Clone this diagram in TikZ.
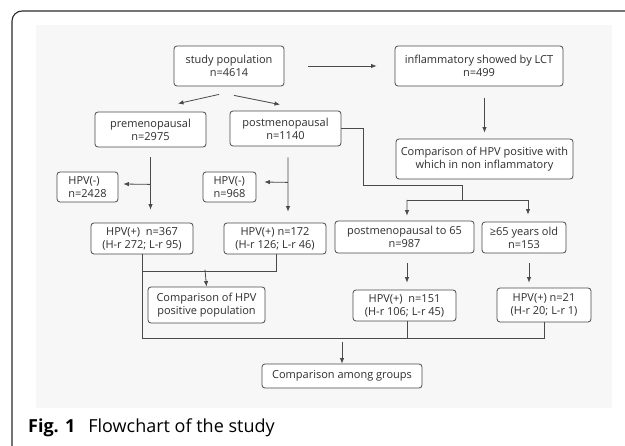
\documentclass[tikz,border=0pt]{standalone}
\usepackage{fontspec}
\setmainfont{Open Sans}
\usetikzlibrary{arrows.meta,calc}
\definecolor{lc}{HTML}{4A4A4A}
\definecolor{tc}{HTML}{2E2E2E}
\definecolor{bg}{HTML}{F7F7F7}
\definecolor{fr}{HTML}{2A2A2A}
\tikzset{
  box/.style={draw=lc, line width=0.8bp, fill=white, rounded corners=3bp, inner sep=0pt, align=center, text=tc,
    font=\fontsize{11bp}{13bp}\selectfont},
  arr/.style={draw=lc, line width=0.8bp, -{Latex[length=5.5bp,width=4.5bp]}},
  ln/.style={draw=lc, line width=0.8bp},
}
\begin{document}
\begin{tikzpicture}[x=1bp,y=-1bp]
\useasboundingbox (0,0) rectangle (625,446);
\begin{scope}
\clip (0,0) rectangle (625,446);
\draw[fr, line width=1.1bp, rounded corners=10bp] (12,11) rectangle (645,458);
\end{scope}
\fill[bg] (36,25) rectangle (612,408);
% nodes
\node[box, minimum width=110bp, minimum height=40bp] (sp) at (229,66) {study population\\n=4614};
\node[box, minimum width=168bp, minimum height=40bp] (lct) at (479,66) {inflammatory showed by LCT\\n=499};
\node[box, minimum width=177bp, minimum height=40bp] (ci) at (484.5,159) {Comparison of HPV positive with\\which in non inflammatory};
\node[box, minimum width=111bp, minimum height=35bp] (pre) at (150.5,129.5) {premenopausal\\n=2975};
\node[box, minimum width=111bp, minimum height=35bp] (post) at (285.5,128.5) {postmenopausal\\n=1140};
\node[box, minimum width=61bp, minimum height=30bp, align=left] (n1) at (87.5,187) {HPV(-)\\n=2428};
\node[box, minimum width=53bp, minimum height=30bp, align=left] (n2) at (229.5,187) {HPV(-)\\n=968};
\node[box, minimum width=102bp, minimum height=31bp] (p1) at (142,238.5) {HPV(+)\ \ n=367\\(H-r 272; L-r 95)};
\node[box, minimum width=102bp, minimum height=31bp] (p2) at (275,238.5) {HPV(+) n=172\\(H-r 126; L-r 46)};
\node[box, minimum width=117bp, minimum height=36bp] (ch) at (206.5,305) {Comparison of HPV\\positive population};
\node[box, minimum width=139bp, minimum height=32bp] (y1) at (404.5,237) {postmenopausal to 65\\n=987};
\node[box, minimum width=84bp, minimum height=31bp] (y2) at (524,237.5) {≥65 years old\\n=153};
\node[box, minimum width=103bp, minimum height=31bp] (p3) at (404.5,305.5) {HPV(+)\ \ n=151\\(H-r 106; L-r 45)};
\node[box, minimum width=94bp, minimum height=34bp] (p4) at (544,305) {HPV(+) n=21\\(H-r 20; L-r 1)};
\node[box, minimum width=160bp, minimum height=24bp] (cg) at (342,376) {Comparison among groups};
% connectors
\draw[arr] ($(sp.east)+(24,0)$) -- ($(lct.west)+(-18,0)$);
\draw[arr] ($(sp.south)+(-10,8)$) -- ($(pre.north)+(27.5,-8)$);
\draw[arr] ($(sp.south)+(5,9)$) -- ($(post.north)+(-5.5,-6)$);
\draw[arr] ($(ci.north)+(0,-41)$) -- ($(ci.north)+(0,-6)$);
% premenopausal branch
\coordinate (j1) at ($(pre.south)+(0,37)$);
\draw[arr] ($(pre.south)+(0,10)$) -- ($(p1.north)+(8.5,-13)$);
\draw[arr] (j1) -- ($(n1.east)+(5,-3)$);
% postmenopausal branch
\coordinate (j2) at ($(post.south)+(2.5,36)$);
\draw[arr] ($(post.south)+(2.5,11)$) -- ($(p2.north)+(13,-11)$);
\draw[arr] (j2) -- ($(n2.east)+(8,-5)$);
% postmenopausal to age groups
\coordinate (a3) at (462,200);
\coordinate (l3) at (407,200);
\coordinate (r3) at (528,200);
\draw[ln] (post.east) -| (363,185) -| (a3);
\draw[ln] (l3) -- (r3);
\draw[arr] (l3) -- ($(y1.north)+(2.5,-5)$);
\draw[arr] (r3) -- ($(y2.north)+(4,-7)$);
\draw[arr] ($(y1.south)+(2.5,10)$) -- ($(p3.north)+(2.5,-7)$);
\draw[arr] ($(y2.south)+(5,10)$) -- ($(p4.north)+(-15,-5)$);
% HPV positive comparison
\coordinate (b1) at (142,271);
\draw[ln] ($(p2.south)+(1,0)$) |- (b1);
\draw[arr] ($(ch.north)+(-1.5,-17)$) -- (ch.north);
% bottom collection
\coordinate (c1) at (142,338);
\coordinate (c2) at (544,338);
\draw[ln] (p1.south) -- (c1) -- (c2) -- (p4.south);
\draw[ln] ($(p3.south)+(2.5,0)$) -- ($(p3.south)+(2.5,16.5)$);
\draw[arr] ($(cg.north)+(0,-22)$) -- (cg.north);
% caption
\node[anchor=base west, inner sep=0pt, text=black, font=\fontsize{18bp}{21bp}\selectfont] (cap) at (28,432)
  {\textbf{Fig. 1}\hspace{13bp}Flowchart of the study};
\end{tikzpicture}
\end{document}
